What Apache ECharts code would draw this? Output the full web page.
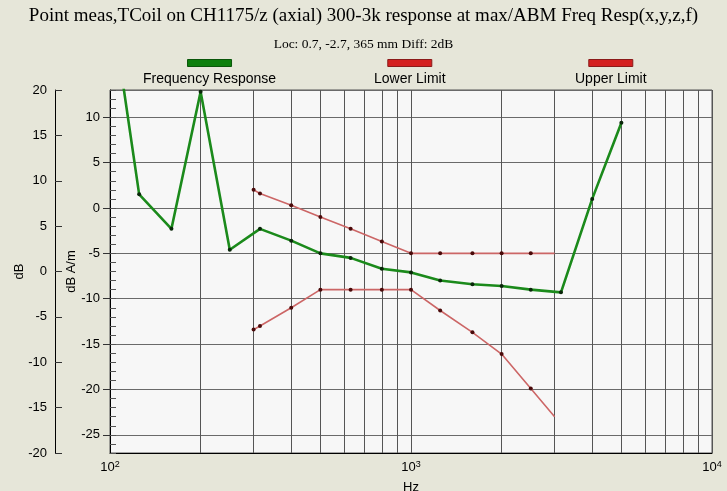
<!DOCTYPE html>
<html><head><meta charset="utf-8">
<script src="https://cdn.jsdelivr.net/npm/echarts@6/dist/echarts.min.js"></script>
<style>html,body{margin:0;padding:0;background:#e6e6d9}#c{width:727px;height:491px}</style>
</head><body><div id="c"></div>
<script>
const titleText = 'Point meas,TCoil on CH1175/z (axial) 300-3k response at max/ABM Freq Resp(x,y,z,f)';
const subtitleText = 'Loc: 0.7, -2.7, 365 mm Diff: 2dB';
const seriesNames = ['Frequency Response', 'Lower Limit', 'Upper Limit'];
const responseFreqs = [100, 125, 160, 200, 250, 315, 400, 500, 630, 800, 1000, 1250, 1600, 2000, 2500, 3150, 4000, 5000];
const responseDb = [23.5, 1.5, -2.3, 12.8, -4.6, -2.3, -3.6, -5.0, -5.5, -6.7, -7.1, -8.0, -8.4, -8.6, -9.0, -9.3, 1.0, 9.4];
const limitFreqs = [300, 315, 400, 500, 630, 800, 1000, 1250, 1600, 2000, 2500, 3000];
const lowerLimitDb = [-13.4, -13.0, -11.0, -9.0, -9.0, -9.0, -9.0, -11.3, -13.7, -16.1, -19.9, -23.0];
const upperLimitDb = [2.0, 1.6, 0.3, -1.0, -2.3, -3.7, -5.0, -5.0, -5.0, -5.0, -5.0, -5.0];
const minorGridFreqs = [200, 300, 400, 500, 600, 700, 800, 900, 2000, 3000, 4000, 5000, 6000, 7000, 8000, 9000];
const innerAxisRange = [-27, 13];
const outerAxisRange = [-20, 20];
const xRange = [100, 10000];

const sans = 'Liberation Sans';
const serif = 'Liberation Serif';
const chart = echarts.init(document.getElementById('c'));

function pairs(xs, ys) { return xs.map((x, i) => [x, ys[i]]); }

function legendFor(name, left, iconStyle) {
  return {
    show: true, left: left, top: 59, padding: 0,
    data: [{ name: name, itemStyle: iconStyle }],
    icon: 'rect', itemWidth: 44, itemHeight: 7,
    selectedMode: false,
    formatter: n => '{t|' + n + '}',
    textStyle: {
      padding: [33, 0, 0, -102],
      rich: { t: { width: 150, align: 'center', fontFamily: sans, fontSize: 14, color: '#000' } }
    }
  };
}

const option = {
  animation: false,
  backgroundColor: '#e6e6d9',
  title: [
    { text: titleText, left: 'center', top: 7, padding: 0,
      textStyle: { fontFamily: serif, fontSize: 19, fontWeight: 'normal', color: '#000' } },
    { text: subtitleText, left: 'center', top: 37, padding: 0,
      textStyle: { fontFamily: serif, fontSize: 13.5, fontWeight: 'normal', color: '#000' } }
  ],
  legend: [
    legendFor(seriesNames[0], 143, { color: '#0d7f0d', borderColor: '#0a560a', borderWidth: 1 }),
    legendFor(seriesNames[1], 374, { color: '#d42020', borderColor: '#8b1a1a', borderWidth: 1 }),
    legendFor(seriesNames[2], 575, { color: '#d42020', borderColor: '#8b1a1a', borderWidth: 1 })
  ],
  grid: {
    left: 110, right: 15, top: 90, bottom: 38, containLabel: false, outerBoundsMode: 'none',
    show: true, backgroundColor: '#f7f7f7', borderColor: '#555', borderWidth: 1
  },
  xAxis: {
    type: 'log', logBase: 10, min: xRange[0], max: xRange[1],
    name: 'Hz', nameLocation: 'middle', nameGap: 28, nameMoveOverlap: false,
    nameTextStyle: { fontFamily: sans, fontSize: 13, color: '#000' },
    axisLine: { onZero: false, lineStyle: { color: '#000' } },
    axisTick: { show: false },
    axisLabel: {
      margin: 7,
      formatter: v => '{b|10}{s|' + Math.round(Math.log10(v)) + '}',
      rich: {
        b: { fontFamily: sans, fontSize: 13, color: '#000' },
        s: { fontFamily: sans, fontSize: 9, color: '#000', padding: [0, 0, 6, 0] }
      }
    },
    splitLine: { show: true, lineStyle: { color: '#555', width: 1 } }
  },
  yAxis: [
    {
      type: 'value', position: 'left', min: innerAxisRange[0], max: innerAxisRange[1], splitNumber: 8,
      name: 'dB A/m', nameLocation: 'middle', nameRotate: 90, nameGap: 32, nameMoveOverlap: false,
      nameTextStyle: { fontFamily: sans, fontSize: 13, color: '#000' },
      axisLine: { show: true, onZero: false, lineStyle: { color: '#000' } },
      axisTick: { show: true, inside: false, length: 7, lineStyle: { color: '#333' } },
      axisLabel: { showMinLabel: false, showMaxLabel: false, margin: 10, fontFamily: sans, fontSize: 13, color: '#000' },
      splitLine: { show: true, lineStyle: { color: '#6a6a6a', width: 1 } }
    },
    {
      type: 'value', position: 'left', min: innerAxisRange[0], max: innerAxisRange[1], interval: 1,
      axisLine: { show: false, onZero: false },
      axisTick: { show: true, inside: true, length: 6, lineStyle: { color: '#555' } },
      axisLabel: { show: false },
      splitLine: { show: false }
    },
    {
      type: 'value', position: 'left', offset: 55, min: outerAxisRange[0], max: outerAxisRange[1], interval: 5,
      name: 'dB', nameLocation: 'middle', nameRotate: 90, nameGap: 29, nameMoveOverlap: false,
      nameTextStyle: { fontFamily: sans, fontSize: 13, color: '#000' },
      axisLine: { show: true, onZero: false, lineStyle: { color: '#000' } },
      axisTick: { show: true, inside: true, length: 7, lineStyle: { color: '#333' } },
      axisLabel: { margin: 8, fontFamily: sans, fontSize: 13, color: '#000' },
      splitLine: { show: false }
    }
  ],
  series: [
    {
      name: seriesNames[1], type: 'line', yAxisIndex: 0, z: 5, silent: true,
      data: pairs(limitFreqs, lowerLimitDb),
      lineStyle: { color: '#cc6666', width: 1.6 },
      symbol: 'circle', symbolSize: (v, p) => (p.dataIndex === limitFreqs.length - 1 ? 0 : 4),
      itemStyle: { color: '#4a0a0a' }, emphasis: { disabled: true }
    },
    {
      name: seriesNames[2], type: 'line', yAxisIndex: 0, z: 5, silent: true,
      data: pairs(limitFreqs, upperLimitDb),
      lineStyle: { color: '#cc6666', width: 1.6 },
      symbol: 'circle', symbolSize: (v, p) => (p.dataIndex === limitFreqs.length - 1 ? 0 : 4),
      itemStyle: { color: '#4a0a0a' }, emphasis: { disabled: true }
    },
    {
      name: seriesNames[0], type: 'line', yAxisIndex: 0, z: 6, silent: true,
      data: pairs(responseFreqs, responseDb),
      lineStyle: { color: '#1b8a1b', width: 2.6 },
      symbol: 'circle', symbolSize: 4,
      itemStyle: { color: '#0a260a' }, emphasis: { disabled: true },
      markLine: {
        silent: true, z: 1, symbol: ['none', 'none'], label: { show: false },
        lineStyle: { color: '#555', type: 'solid', width: 1 },
        emphasis: { disabled: true },
        data: minorGridFreqs.map(f => ({ xAxis: f }))
      }
    }
  ]
};
chart.setOption(option);
</script>
</body></html>
